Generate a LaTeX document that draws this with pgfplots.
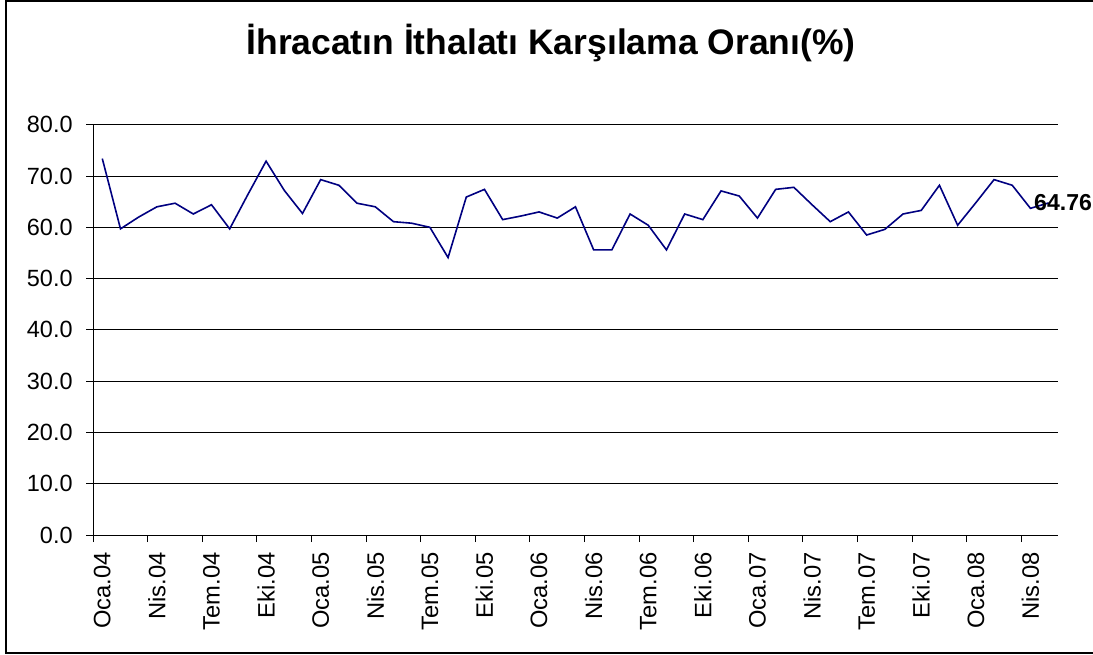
\documentclass[border=0pt]{standalone}
\usepackage{fontspec}
\setmainfont{Liberation Sans}
\usepackage{pgfplots}
\pgfplotsset{compat=1.18}

\definecolor{navyline}{RGB}{0,0,128}

\pgfplotstableread{
idx val
0 73.4
1 59.7
2 62.0
3 64.0
4 64.7
5 62.6
6 64.4
7 59.7
8 66.4
9 72.9
10 67.2
11 62.7
12 69.3
13 68.2
14 64.7
15 64.0
16 61.1
17 60.8
18 60.0
19 54.1
20 65.9
21 67.4
22 61.5
23 62.2
24 63.0
25 61.8
26 64.0
27 55.6
28 55.6
29 62.6
30 60.4
31 55.6
32 62.6
33 61.5
34 67.1
35 66.1
36 61.8
37 67.4
38 67.8
39 64.4
40 61.1
41 63.0
42 58.5
43 59.6
44 62.6
45 63.3
46 68.2
47 60.4
48 64.8
49 69.3
50 68.2
51 63.7
52 64.76
}\ratio

\begin{document}
\begin{tikzpicture}
  % page = 1093 x 654 px at 0.75pt per px
  \useasboundingbox (0,0) rectangle (819.75pt,-490.5pt);
  \draw[line width=1.5pt] (4.5pt,-0.75pt) rectangle (830pt,-489.4pt);

  \node[anchor=base, inner sep=0pt, font=\fontsize{26.6}{30}\selectfont\bfseries]
    at (413.25pt,-40.7pt) {İhracatın İthalatı Karşılama Oranı(\%)};

  \begin{axis}[
      at={(69.9pt,-401.25pt)}, anchor=south west,
      scale only axis,
      width=723.4pt, height=307.7pt,
      xmin=-0.5, xmax=52.5,
      ymin=0, ymax=80,
      axis lines*=left,
      axis line style={black, line width=0.75pt},
      ytick={0,10,...,80},
      ymajorgrids,
      grid style={black, line width=0.6pt},
      tick align=outside,
      major tick length=5.25pt,
      minor tick length=5.25pt,
      tick style={black, line width=0.75pt},
      xtick={0,3,...,51},
      minor xtick={-0.5,2.5,...,50.5},
      every major x tick/.append style={draw=none},
      xticklabels={Oca.04,Nis.04,Tem.04,Eki.04,Oca.05,Nis.05,Tem.05,Eki.05,
        Oca.06,Nis.06,Tem.06,Eki.06,Oca.07,Nis.07,Tem.07,Eki.07,Oca.08,Nis.08},
      xticklabel style={rotate=90, anchor=east, inner sep=0pt,
        font=\fontsize{17.8}{20}\selectfont},
      yticklabel style={anchor=east, inner sep=0pt,
        font=\fontsize{17.6}{20}\selectfont},
      xticklabel shift=7.5pt,
      yticklabel shift=10pt,
      /pgf/number format/.cd, fixed, fixed zerofill, precision=1,
        assume math mode=true,
      /pgfplots/.cd,
      clip=false,
  ]
  \addplot[navyline, line width=1.2pt] table[x=idx, y=val] {\ratio};
  \node[anchor=west, inner sep=0pt, xshift=-11pt,
    font=\fontsize{17.3}{20}\selectfont\bfseries] at (axis cs:52,64.76) {64.76};
  \end{axis}
\end{tikzpicture}
\end{document}
